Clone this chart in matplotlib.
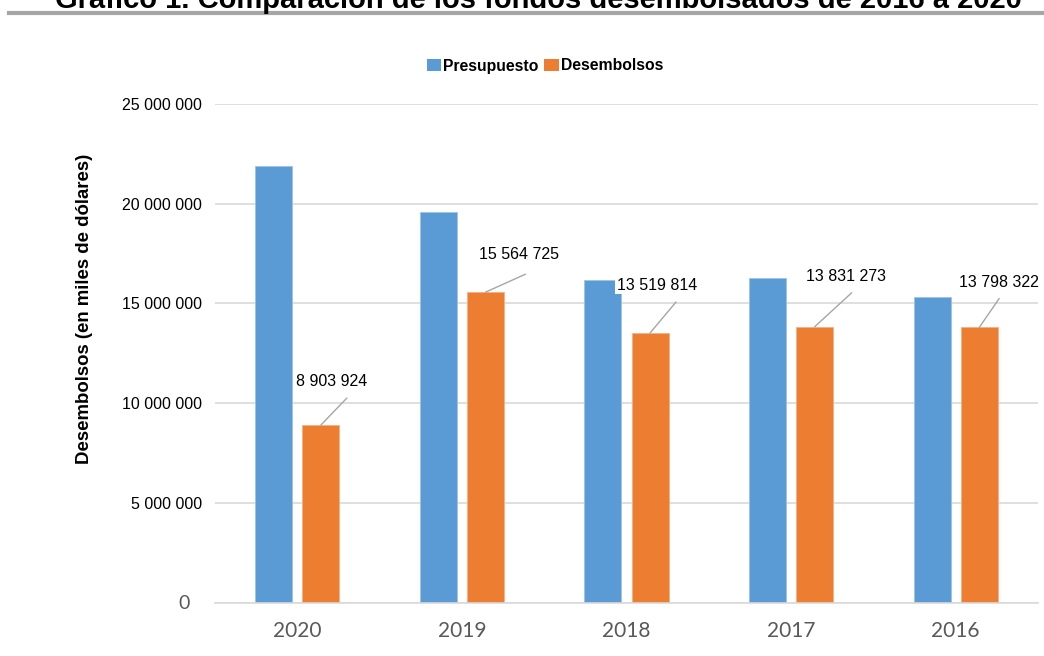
import matplotlib
matplotlib.use("Agg")
import matplotlib.pyplot as plt
from matplotlib.patches import Patch
from matplotlib.lines import Line2D
from matplotlib.transforms import ScaledTranslation
import numpy as np

plt.rcParams['font.family'] = ['Liberation Sans', 'DejaVu Sans']

# datos
years = ['2020', '2019', '2018', '2017', '2016']
presupuesto = [21900000, 19600000, 16200000, 16300000, 15300000]
desembolsos = [8903924, 15564725, 13519814, 13831273, 13798322]

# desplazamientos (pixeles) de las etiquetas y lineas guia
label_off = [(11, 44), (34, 38), (7, 48), (31, 50), (20, 45)]
line_off = [(26, 27), (40, 18), (26, 31), (37, 34), (20, 29)]

blue = '#5B9BD5'
orange = '#ED7D31'
grey_txt = '#595959'

fig = plt.figure(figsize=(10.44, 6.56), dpi=100)
ax = fig.add_axes([215 / 1044, 1 - 602.7 / 656, 823 / 1044, 498.7 / 656])

x = np.arange(len(years))
w = 0.225
off = 0.143
ax.bar(x - off, presupuesto, w, color=blue, edgecolor='#9DC3E6', linewidth=0.6, zorder=2)
ax.bar(x + off, desembolsos, w, color=orange, edgecolor='#F4B183', linewidth=0.6, zorder=2)

for i, v in enumerate(desembolsos):
    txt = f"{v:,}".replace(',', ' ')
    ax.annotate('', xy=(x[i] + off, v), xytext=line_off[i], textcoords='offset pixels',
                arrowprops=dict(arrowstyle='-', color='#A6A6A6', lw=1,
                                shrinkA=0, shrinkB=0), zorder=3)
    ax.annotate(txt, xy=(x[i] + off, v), xytext=label_off[i], textcoords='offset pixels',
                ha='center', va='center', fontsize=11.5, color='black', zorder=4,
                bbox=dict(boxstyle='square,pad=0.1', fc='white', ec='none'))

ax.set_xlim(-0.5, 4.5)
ax.set_ylim(0, 25000000)
ax.set_yticks(np.arange(0, 25000001, 5000000))
ax.set_yticklabels([f"{int(t):,}".replace(',', ' ') for t in ax.get_yticks()])
ax.set_xticks(x)
ax.set_xticklabels(years)
ax.grid(axis='y', color='#D9D9D9', linewidth=1.2, zorder=0)
ax.set_axisbelow(True)
for s in ['top', 'right', 'left']:
    ax.spines[s].set_visible(False)
ax.spines['bottom'].set_color('#D9D9D9')
ax.spines['bottom'].set_linewidth(1.2)
ax.tick_params(axis='both', length=0)
ax.tick_params(axis='y', labelsize=11.5, pad=9.5, labelcolor='black')
ax.tick_params(axis='x', pad=13)
for lab in ax.get_xticklabels():
    lab.set_family(['Lato', 'DejaVu Sans'])
    lab.set_fontsize(15)
    lab.set_color(grey_txt)
# el "0" del eje aparece gris y algo mas a la izquierda
zero = ax.get_yticklabels()[0]
zero.set_family(['Lato', 'DejaVu Sans'])
zero.set_fontsize(14)
zero.set_color(grey_txt)
zero.set_transform(zero.get_transform() + ScaledTranslation(-0.12, 0.01, fig.dpi_scale_trans))

ax.set_ylabel('Desembolsos (en miles de dólares)', fontsize=13.4, fontweight='bold', va='center')
ax.yaxis.set_label_coords(-0.158, 0.589)

handles = [Patch(facecolor=blue, edgecolor='none', label='Presupuesto'),
           Patch(facecolor=orange, edgecolor='none', label='Desembolsos')]
fig.legend(handles=handles, loc='center', bbox_to_anchor=(545 / 1044, 1 - 66 / 656), ncol=2,
           frameon=False, prop={'weight': 'bold', 'size': 11.3}, handlelength=0.9,
           handleheight=0.8, handletextpad=0.13, columnspacing=0.38, borderpad=0)

fig.text(538 / 1044, 1 - 8 / 656, 'Gráfico 1. Comparación de los fondos desembolsados de 2016 a 2020',
         ha='center', va='baseline', fontsize=21, fontweight='bold')
fig.add_artist(Line2D([9 / 1044, 1], [1 - 13 / 656, 1 - 13 / 656], color='#A6A6A6', lw=3))

fig.savefig('out.png', dpi=100)
